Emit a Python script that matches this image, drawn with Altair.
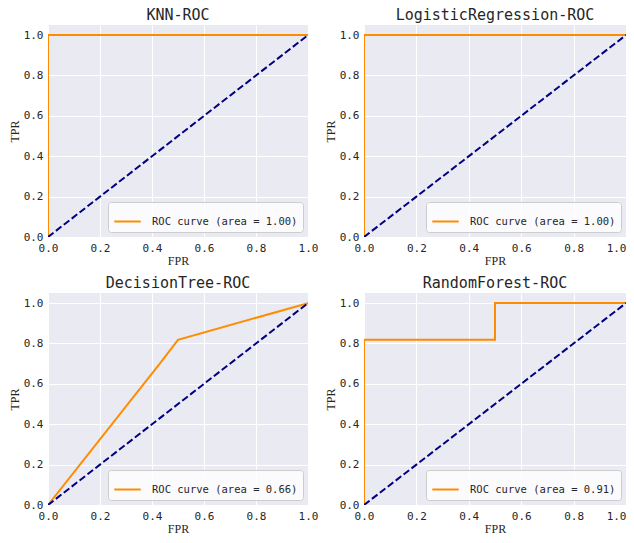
import altair as alt
import pandas as pd

titles = ["KNN-ROC", "LogisticRegression-ROC", "DecisionTree-ROC", "RandomForest-ROC"]
areas = ["1.00", "1.00", "0.66", "0.91"]
fprs = [
    [0.0, 0.0, 1.0],
    [0.0, 0.0, 1.0],
    [0.0, 0.43, 0.5, 1.0],
    [0.0, 0.0, 0.5, 0.5, 1.0],
]
tprs = [
    [0.0, 1.0, 1.0],
    [0.0, 1.0, 1.0],
    [0.0, 0.70, 0.818, 1.0],
    [0.0, 0.818, 0.818, 1.0, 1.0],
]
diag = [0.0, 1.0]
ticks = [0.0, 0.2, 0.4, 0.6, 0.8, 1.0]
widths = [260, 262, 260, 262]

MONO = "DejaVu Sans Mono"
SERIF = "Liberation Serif"


def panel(k):
    label = f"ROC curve (area = {areas[k]})"
    df = pd.DataFrame({"fpr": fprs[k], "tpr": tprs[k], "i": list(range(len(fprs[k]))), "label": label})
    dd = pd.DataFrame({"fpr": diag, "tpr": diag})
    xs = alt.Scale(domain=[0, 1], nice=False, zero=False)
    ys = alt.Scale(domain=[0, 1.05], nice=False, zero=False)
    if k % 2 == 1:
        xax = alt.Axis(
            values=ticks, format=".1f", title="FPR", labelFlush=False,
            labelAlign=alt.condition("datum.value >= 1", alt.value("right"), alt.value("center")),
        )
    else:
        xax = alt.Axis(values=ticks, format=".1f", title="FPR", labelFlush=False)
    yax = alt.Axis(values=ticks, format=".1f", title="TPR", labelFlush=False)
    curve = alt.Chart(df).mark_line(strokeWidth=2, clip=True).encode(
        x=alt.X("fpr:Q", scale=xs, axis=xax),
        y=alt.Y("tpr:Q", scale=ys, axis=yax),
        order=alt.Order("i:Q"),
        color=alt.Color(
            "label:N",
            scale=alt.Scale(range=["#FF8C00"]),
            legend=alt.Legend(
                orient="bottom-right",
                title=None,
                offset=5,
                symbolType="stroke",
                symbolSize=700,
                symbolStrokeWidth=2,
                labelFont=MONO,
                labelFontSize=10.5,
                labelColor="#262626",
                labelOffset=10,
                padding=5,
                fillColor="rgba(255,255,255,0.8)",
                strokeColor="#cccccc",
                cornerRadius=3,
            ),
        ),
    )
    line = alt.Chart(dd).mark_line(color="#000080", strokeWidth=2, strokeDash=[7, 3], clip=True).encode(
        x=alt.X("fpr:Q", scale=xs, axis=xax),
        y=alt.Y("tpr:Q", scale=ys, axis=yax),
    )
    return alt.layer(curve, line).properties(
        width=widths[k],
        height=212,
        title=alt.TitleParams(
            titles[k], font=MONO, fontSize=15, fontWeight="normal", color="#262626",
            anchor="middle", frame="group", offset=2,
        ),
    )


chart = alt.concat(
    *[panel(k) for k in range(4)],
    columns=2,
    spacing={"row": 56, "column": 56},
    bounds="flush",
).resolve_scale(color="independent").resolve_legend(color="independent").properties(
    padding={"top": 0, "left": 0, "right": 0, "bottom": 0}
).configure_view(
    fill="#EAEAF2", stroke=None
).configure_axis(
    grid=True,
    gridColor="white",
    gridWidth=1,
    domain=False,
    ticks=False,
    labelFont=MONO,
    labelFontSize=11,
    labelColor="#262626",
    labelPadding=5,
    titleFont=SERIF,
    titleFontSize=12,
    titleFontWeight="normal",
    titleColor="#262626",
    titlePadding=2,
)

chart.save("out.html", embed_options={"renderer": "svg", "actions": False})
